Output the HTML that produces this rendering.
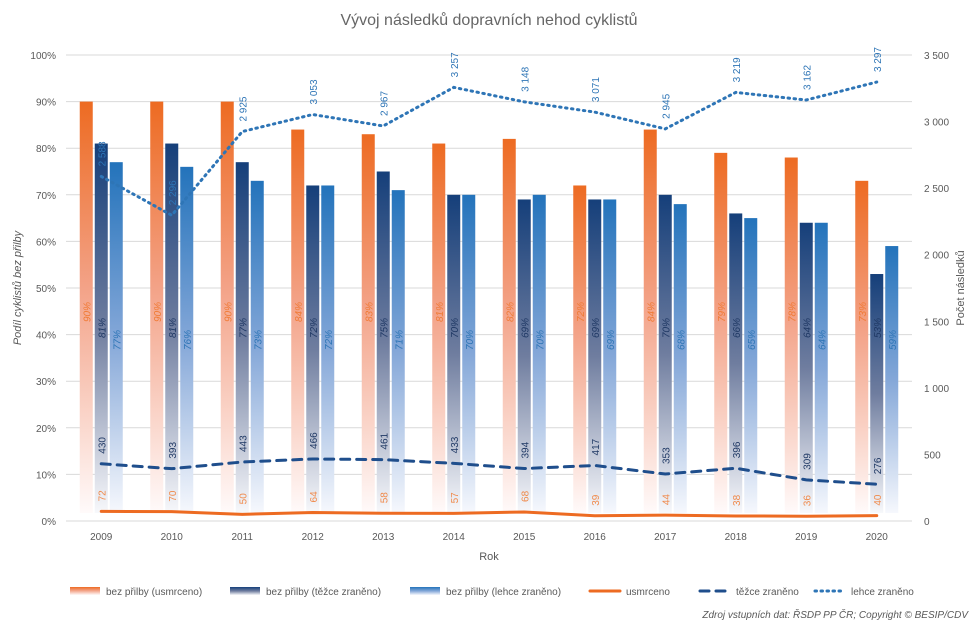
<!DOCTYPE html>
<html><head><meta charset="utf-8"><style>
body{margin:0;background:#fff;font-family:"Liberation Sans",sans-serif;}
svg text{font-family:"Liberation Sans",sans-serif;}
</style></head><body>
<svg id="c" width="978" height="632">
<defs>
<linearGradient id="gO" x1="0" y1="0" x2="0" y2="1"><stop offset="0" stop-color="#ed6b22"/><stop offset="0.45" stop-color="#f3a287"/><stop offset="1" stop-color="#fffafa"/></linearGradient>
<linearGradient id="gD" x1="0" y1="0" x2="0" y2="1"><stop offset="0" stop-color="#153f7a"/><stop offset="0.5" stop-color="#6f7d9f"/><stop offset="1" stop-color="#f7f8fb"/></linearGradient>
<linearGradient id="gB" x1="0" y1="0" x2="0" y2="1"><stop offset="0" stop-color="#2373bb"/><stop offset="0.5" stop-color="#84a7d8"/><stop offset="1" stop-color="#f6f8fd"/></linearGradient>
</defs>
</svg>
<script>
const categories=["2009","2010","2011","2012","2013","2014","2015","2016","2017","2018","2019","2020"];
const pctKilled=[90,90,90,84,83,81,82,72,84,79,78,73];
const pctSerious=[81,81,77,72,75,70,69,69,70,66,64,53];
const pctLight=[77,76,73,72,71,70,70,69,68,65,64,59];
const cntKilled=[72,70,50,64,58,57,68,39,44,38,36,40];
const cntSerious=[430,393,443,466,461,433,394,417,353,396,309,276];
const cntLight=[2588,2296,2925,3053,2967,3257,3148,3071,2945,3219,3162,3297];
const leftTicks=[0,10,20,30,40,50,60,70,80,90,100];
const rightTicks=[0,500,1000,1500,2000,2500,3000,3500];

const svg=document.getElementById('c');const NS="http://www.w3.org/2000/svg";
function el(t,a,txt){const e=document.createElementNS(NS,t);for(const k in a)e.setAttribute(k,a[k]);if(txt!==undefined)e.textContent=txt;svg.appendChild(e);return e;}
const X0=66,X1=912,Y0=521,Y1=55,bw=(X1-X0)/categories.length;
const yL=v=>Y0-(Y0-Y1)*v/100, yR=v=>Y0-(Y0-Y1)*v/3500, xC=i=>X0+bw*(i+0.5);
const fmt=v=>{const s=String(v);return s.length>3?s.slice(0,s.length-3)+" "+s.slice(-3):s;};

let t=el('text',{x:489,y:25,'text-anchor':'middle','font-size':16,fill:'#666'},'Vývoj následků dopravních nehod cyklistů');

leftTicks.forEach(v=>{let g=el('line',{x1:X0,x2:X1,y1:yL(v),y2:yL(v),stroke:'#d9d9d9'});
 let l=el('text',{x:56,y:yL(v)+4,'text-anchor':'end','font-size':10,fill:'#595959'},v+'%');});
rightTicks.forEach(v=>{let l=el('text',{x:924,y:yR(v)+4,'font-size':10,fill:'#595959'},fmt(v));});
t=el('text',{x:0,y:0,transform:'translate(21,288) rotate(-90)','text-anchor':'middle','font-size':11,'font-style':'italic',fill:'#595959'},'Podíl cyklistů bez přilby');
t=el('text',{x:0,y:0,transform:'translate(964,288) rotate(-90)','text-anchor':'middle','font-size':11,fill:'#595959'},'Počet následků');
t=el('text',{x:489,y:560,'text-anchor':'middle','font-size':11,fill:'#595959'},'Rok');

const series=[[pctKilled,'url(#gO)',-15,'#f07a35',312],[pctSerious,'url(#gD)',0,'#1f3864',328],[pctLight,'url(#gB)',15,'#2e75b6',340]];
categories.forEach((c,i)=>{
 let l=el('text',{x:xC(i),y:540,'text-anchor':'middle','font-size':10,fill:'#595959'},c);
 series.forEach(([arr,fill,off,col,ly])=>{const cx=xC(i)+off;
  let r=el('rect',{x:cx-6.5,y:yL(arr[i]),width:13,height:Y0-8-yL(arr[i]),fill:fill});
  let tl=el('text',{x:0,y:0,transform:`translate(${cx+4},${ly}) rotate(-90)`,'text-anchor':'middle','font-size':10,'font-style':'italic',fill:col},arr[i]+'%');
 });
});
function line(arr,col,dash,w,name,lblCol){
 const d=arr.map((v,i)=>(i?'L':'M')+xC(i)+','+yR(v)).join(' ');
 let p=el('path',{d:d,fill:'none',stroke:col,'stroke-width':w,'stroke-dasharray':dash,'stroke-linecap':'round'});
 arr.forEach((v,i)=>{let tl=el('text',{x:0,y:0,transform:`translate(${xC(i)+4},${yR(v)-10}) rotate(-90)`,'font-size':10,fill:lblCol},fmt(v));});
}
line(cntKilled,'#ed6b22','',3,'line-usmrceno','#f08a4b');
line(cntSerious,'#1f4e8c','9 7',3,'line-tezce','#1f3864');
line(cntLight,'#2e75b6','1.5 4.5',3,'line-lehce','#2e75b6');

const leg=[['bar','url(#gO)','bez přilby (usmrceno)',70],['bar','url(#gD)','bez přilby (těžce zraněno)',230],['bar','url(#gB)','bez přilby (lehce zraněno)',410],['line','#ed6b22','usmrceno',590,''],['line','#1f4e8c','těžce zraněno',700,'9 7'],['line','#2e75b6','lehce zraněno',815,'1.5 4.5']];
leg.forEach(([k,c,txt,x,dash])=>{
 if(k==='bar'){let r=el('rect',{x:x,y:587,width:30,height:8,fill:c});}
 else{let r=el('line',{x1:x,x2:x+30,y1:591,y2:591,stroke:c,'stroke-width':3,'stroke-dasharray':dash,'stroke-linecap':'round'});}
 let l=el('text',{x:x+36,y:595,'font-size':10,fill:'#595959'},txt);
});
t=el('text',{x:968,y:618,'text-anchor':'end','font-size':10,'font-style':'italic',fill:'#595959'},'Zdroj vstupních dat: ŘSDP PP ČR; Copyright © BESIP/CDV');
</script>
</body></html>
